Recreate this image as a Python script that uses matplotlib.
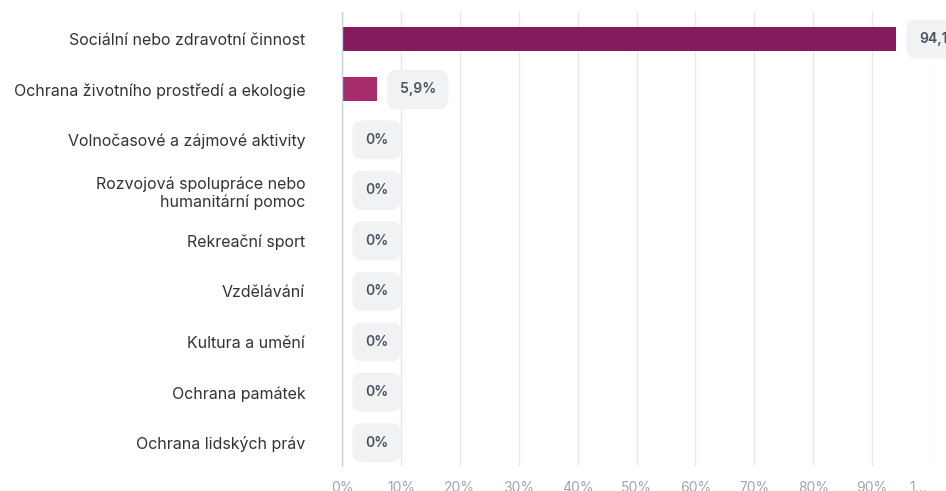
import matplotlib.pyplot as plt
from matplotlib.transforms import ScaledTranslation

plt.rcParams['font.family'] = ['Inter', 'DejaVu Sans']

categories = [
    'Sociální nebo zdravotní činnost',
    'Ochrana životního prostředí a ekologie',
    'Volnočasové a zájmové aktivity',
    'Rozvojová spolupráce nebo\nhumanitární pomoc',
    'Rekreační sport',
    'Vzdělávání',
    'Kultura a umění',
    'Ochrana památek',
    'Ochrana lidských práv',
]
values = [94.1, 5.9, 0, 0, 0, 0, 0, 0, 0]
value_labels = ['94,1%', '5,9%', '0%', '0%', '0%', '0%', '0%', '0%', '0%']
tick_vals = [0, 10, 20, 30, 40, 50, 60, 70, 80, 90, 100]
tick_labels = ['0%', '10%', '20%', '30%', '40%', '50%', '60%', '70%', '80%', '90%', '1...']
bar_colors = ['#861a5e', '#a62c6b'] + ['#a62c6b'] * 7

fig = plt.figure(figsize=(9.46, 4.91), dpi=100)
ax = fig.add_axes([342 / 946, 1 - 466 / 491, (931 - 342) / 946, (466 - 12) / 491])

y = list(range(len(categories)))
ax.barh(y, values, height=0.475, color=bar_colors, zorder=2)

for yi, v, lab in zip(y, values, value_labels):
    ax.annotate(lab, xy=(v, yi), xytext=(16.5, 0), textcoords='offset points',
                ha='left', va='center', fontsize=10, fontweight='semibold',
                color='#4b5263', annotation_clip=False, zorder=3,
                bbox=dict(boxstyle='round,pad=0.9,rounding_size=0.7',
                          fc='#f1f2f3', ec='none'))

ax.set_xlim(0, 100)
ax.set_ylim(8.46, -0.535)
ax.set_yticks(y)
ax.set_yticklabels(categories, fontsize=11.5, color='#333333', ha='right',
                   linespacing=1.2)
ax.set_xticks(tick_vals)
ax.set_xticklabels(tick_labels, fontsize=10, color='#a0a5ae')
ax.tick_params(axis='y', length=0, pad=26.5)
ax.tick_params(axis='x', length=0, pad=10.5)

# last tick label is truncated and pushed left in the original
last = ax.get_xticklabels()[-1]
last.set_ha('right')
last.set_transform(last.get_transform() + ScaledTranslation(-4 / 100, 0, fig.dpi_scale_trans))

ax.grid(axis='x', color='#e8e8ea', linewidth=1, zorder=0)
for s in ['top', 'right', 'bottom']:
    ax.spines[s].set_visible(False)
ax.spines['left'].set_color('#c9d1ea')
ax.spines['left'].set_linewidth(1)

fig.savefig('out.png', dpi=100)
